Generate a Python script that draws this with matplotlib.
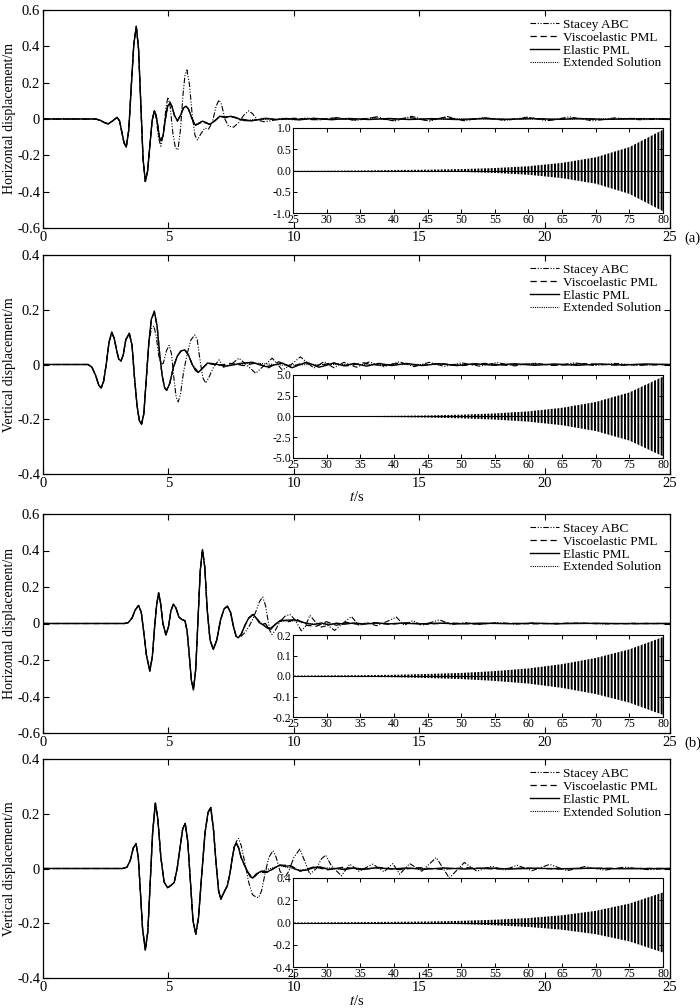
import matplotlib
matplotlib.use('Agg')
from matplotlib import pyplot as plt
from matplotlib import ticker

plt.rcParams['font.family'] = ['Liberation Serif', 'DejaVu Serif']
plt.rcParams['mathtext.fontset'] = 'stix'
plt.rcParams['axes.unicode_minus'] = False
plt.rcParams['hatch.color'] = 'black'
plt.rcParams['hatch.linewidth'] = 1.4
plt.rcParams['axes.linewidth'] = 0.9

# ********** Data **********
# each list holds (t [s], displacement [m]) pairs

# (a) horizontal
ah_base = [(0, 0), (2.1, 0), (2.3, -0.008), (2.45, -0.02), (2.6, -0.027), (2.78, -0.01), (2.95, 0.009),
           (3.05, -0.01), (3.14, -0.07), (3.23, -0.13), (3.32, -0.155), (3.42, -0.06), (3.52, 0.18),
           (3.62, 0.41), (3.72, 0.51), (3.81, 0.385), (3.9, 0.083), (3.99, -0.22), (4.08, -0.344),
           (4.17, -0.287), (4.26, -0.149), (4.35, -0.01), (4.44, 0.046)]
ah_elastic = [(4.51, 0.02), (4.58, -0.04), (4.64, -0.1), (4.7, -0.12), (4.79, -0.09), (4.88, 0.0), (4.97, 0.07),
              (5.06, 0.088), (5.14, 0.07), (5.24, 0.02), (5.36, -0.01), (5.48, 0.02), (5.6, 0.06), (5.7, 0.071),
              (5.8, 0.055), (5.92, 0.01), (6.0, -0.02), (6.08, -0.033), (6.2, -0.025), (6.35, -0.012),
              (6.5, -0.02), (6.65, -0.03), (6.85, -0.01), (7.05, 0.015), (7.25, 0.01), (7.5, 0.015),
              (7.75, 0.003), (8.0, -0.008), (8.3, -0.01), (8.6, -0.003), (8.9, 0.004), (9.3, -0.004),
              (9.7, 0.003), (10.2, -0.005), (10.8, 0.004), (11.5, -0.004), (12.2, 0.003), (13.0, -0.003),
              (13.8, 0.003), (14.6, -0.003), (15.5, 0.002), (16.5, -0.003), (17.5, 0.002), (18.5, -0.002),
              (19.5, 0.002), (20.5, -0.002), (21.5, 0.002), (22.5, -0.002), (23.5, 0.001), (25, 0)]
ah_stacey = [(4.52, 0.0), (4.6, -0.1), (4.7, -0.15), (4.8, -0.08), (4.9, 0.06), (4.98, 0.12), (5.07, 0.07),
             (5.18, -0.08), (5.28, -0.16), (5.38, -0.17), (5.48, -0.06), (5.58, 0.13), (5.66, 0.24),
             (5.74, 0.27), (5.84, 0.19), (5.95, 0.02), (6.06, -0.09), (6.16, -0.115), (6.3, -0.08),
             (6.45, -0.05), (6.6, -0.055), (6.75, -0.02), (6.9, 0.07), (7.02, 0.105), (7.12, 0.08),
             (7.25, 0.0), (7.4, -0.04), (7.6, -0.045), (7.8, -0.02), (8.0, 0.02), (8.2, 0.045), (8.35, 0.03),
             (8.55, -0.005), (8.8, -0.015), (9.1, -0.01), (9.5, 0.004), (10.0, -0.005), (10.5, 0.006),
             (11.0, -0.006), (11.7, 0.008), (12.5, -0.008), (13.3, 0.012), (14.0, -0.012), (14.7, 0.015),
             (15.4, -0.012), (16.1, 0.014), (16.8, -0.01), (17.6, 0.008), (18.4, -0.008), (19.3, 0.01),
             (20.1, -0.01), (21.0, 0.012), (21.9, -0.01), (22.8, 0.006), (23.8, -0.004), (25, 0)]
ah_visco = [(4.51, 0.02), (4.58, -0.04), (4.64, -0.1), (4.7, -0.125), (4.79, -0.09), (4.88, 0.0), (4.97, 0.075),
            (5.06, 0.095), (5.14, 0.07), (5.24, 0.02), (5.36, -0.012), (5.48, 0.02), (5.6, 0.06), (5.7, 0.07),
            (5.8, 0.055), (5.92, 0.01), (6.08, -0.035), (6.3, -0.02), (6.5, -0.022), (6.65, -0.03),
            (6.85, -0.01), (7.05, 0.013), (7.3, 0.008), (7.6, 0.012), (7.9, 0.0), (8.3, -0.01), (8.8, 0.003),
            (9.4, -0.004), (10.0, 0.004), (10.8, -0.004), (11.6, 0.005), (12.4, -0.005), (13.2, 0.008),
            (13.9, -0.008), (14.6, 0.009), (15.3, -0.008), (16.0, 0.008), (16.8, -0.006), (17.6, 0.005),
            (18.5, -0.005), (19.4, 0.006), (20.3, -0.005), (21.2, 0.005), (22.2, -0.004), (23.3, 0.003), (25, 0)]
ah_exact = [(4.51, 0.02), (4.58, -0.04), (4.64, -0.1), (4.7, -0.12), (4.79, -0.09), (4.88, 0.0), (4.97, 0.07),
            (5.06, 0.088), (5.14, 0.07), (5.24, 0.02), (5.36, -0.01), (5.48, 0.02), (5.6, 0.06), (5.7, 0.071),
            (5.8, 0.055), (5.92, 0.01), (6.08, -0.033), (6.35, -0.012), (6.65, -0.028), (6.85, -0.01),
            (7.05, 0.015), (7.5, 0.013), (8.0, -0.006), (8.5, -0.004), (9.5, 0.0), (25, 0)]

# (a) vertical
av_base = [(0, 0), (1.8, 0), (1.95, -0.01), (2.1, -0.04), (2.22, -0.075), (2.32, -0.086), (2.42, -0.06),
           (2.52, 0.0), (2.63, 0.08), (2.74, 0.118), (2.84, 0.095), (2.94, 0.05), (3.02, 0.02), (3.11, 0.013),
           (3.2, 0.035), (3.3, 0.09), (3.44, 0.114), (3.55, 0.07), (3.65, -0.05), (3.75, -0.15),
           (3.84, -0.205), (3.93, -0.218), (4.02, -0.18), (4.12, -0.05), (4.22, 0.08)]
av_elastic = [(4.32, 0.165), (4.44, 0.195), (4.55, 0.14), (4.65, 0.04), (4.75, -0.04), (4.85, -0.085),
              (4.93, -0.095), (5.05, -0.07), (5.2, -0.01), (5.35, 0.03), (5.5, 0.05), (5.66, 0.053),
              (5.8, 0.035), (5.95, 0.0), (6.08, -0.022), (6.19, -0.029), (6.35, -0.015), (6.56, 0.005),
              (6.8, 0.003), (7.05, -0.002), (7.3, -0.006), (7.55, -0.002), (7.8, 0.003), (8.05, 0.006),
              (8.35, 0.008), (8.6, 0.0), (8.9, -0.008), (9.2, -0.002), (9.55, 0.005), (9.93, -0.012),
              (10.2, -0.002), (10.5, 0.008), (10.75, 0.0), (11.0, -0.01), (11.3, -0.003), (11.6, 0.006),
              (12.0, -0.005), (12.4, 0.004), (12.9, -0.006), (13.4, 0.004), (13.9, -0.004), (14.5, 0.004),
              (15.1, -0.004), (15.8, 0.003), (16.5, -0.004), (17.2, 0.003), (18.0, -0.003), (18.8, 0.003),
              (19.6, -0.003), (20.4, 0.002), (21.3, -0.003), (22.2, 0.002), (23.1, -0.002), (24.0, 0.002), (25, 0)]
av_stacey = [(4.32, 0.13), (4.42, 0.141), (4.52, 0.1), (4.62, 0.03), (4.72, 0.0), (4.8, 0.005), (4.92, 0.05),
             (5.03, 0.07), (5.12, 0.04), (5.22, -0.05), (5.31, -0.12), (5.39, -0.137), (5.48, -0.11),
             (5.6, -0.03), (5.75, 0.04), (5.9, 0.09), (6.05, 0.108), (6.15, 0.09), (6.27, 0.01), (6.38, -0.05),
             (6.49, -0.068), (6.6, -0.05), (6.8, -0.01), (7.02, 0.017), (7.2, -0.01), (7.5, 0.0), (7.81, 0.023),
             (8.1, 0.0), (8.48, -0.032), (8.8, -0.005), (9.14, 0.023), (9.54, -0.02), (9.9, 0.0), (10.26, 0.028),
             (10.5, 0.01), (10.8, -0.013), (11.2, 0.01), (11.6, -0.012), (12.0, 0.008), (12.5, -0.01),
             (13.0, 0.009), (13.6, -0.008), (14.2, 0.01), (14.8, -0.008), (15.4, 0.008), (16.0, -0.007),
             (16.7, 0.006), (17.4, -0.006), (18.1, 0.007), (18.8, -0.005), (19.6, 0.005), (20.4, -0.004),
             (21.2, 0.006), (22.0, -0.004), (22.8, 0.004), (23.8, -0.003), (25, 0)]
av_visco = [(4.32, 0.165), (4.44, 0.19), (4.55, 0.14), (4.65, 0.04), (4.75, -0.04), (4.85, -0.085),
            (4.93, -0.093), (5.05, -0.07), (5.2, -0.01), (5.35, 0.03), (5.5, 0.048), (5.66, 0.052), (5.8, 0.035),
            (5.95, 0.0), (6.19, -0.028), (6.56, 0.004), (7.0, -0.003), (7.5, 0.004), (8.0, -0.004), (8.5, 0.006),
            (9.0, -0.012), (9.4, 0.01), (9.9, -0.01), (10.4, 0.008), (10.9, -0.006), (11.5, 0.006),
            (12.1, -0.005), (12.8, 0.006), (13.5, -0.005), (14.2, 0.005), (15.0, -0.004), (15.8, 0.004),
            (16.7, -0.004), (17.6, 0.004), (18.5, -0.003), (19.5, 0.003), (20.5, -0.003), (21.6, 0.003),
            (22.8, -0.002), (25, 0)]
av_exact = [(4.32, 0.165), (4.44, 0.195), (4.55, 0.14), (4.65, 0.04), (4.75, -0.04), (4.85, -0.085),
            (4.93, -0.095), (5.05, -0.07), (5.2, -0.01), (5.35, 0.03), (5.5, 0.05), (5.66, 0.053), (5.8, 0.035),
            (5.95, 0.0), (6.19, -0.029), (6.56, 0.005), (7.3, -0.004), (8.35, 0.006), (9.5, -0.002),
            (11.0, 0.0), (25, 0)]

# (b) horizontal
bh_base = [(0, 0), (3.25, 0), (3.4, 0.005), (3.55, 0.03), (3.68, 0.075), (3.81, 0.099), (3.92, 0.06),
           (4.02, -0.05), (4.12, -0.17), (4.26, -0.261), (4.36, -0.18), (4.45, -0.02), (4.53, 0.1),
           (4.61, 0.168), (4.69, 0.11), (4.78, 0.0), (4.9, -0.062), (5.0, -0.02), (5.1, 0.07), (5.2, 0.106),
           (5.3, 0.085), (5.42, 0.035), (5.54, 0.022), (5.66, 0.015), (5.745, -0.04), (5.83, -0.17),
           (5.915, -0.31), (6.0, -0.363), (6.09, -0.25), (6.18, 0.02), (6.27, 0.29), (6.36, 0.405),
           (6.45, 0.31), (6.55, 0.07), (6.66, -0.09), (6.79, -0.142), (6.93, -0.09), (7.08, 0.02),
           (7.22, 0.08), (7.35, 0.095), (7.48, 0.06), (7.6, -0.02), (7.7, -0.07), (7.78, -0.078)]
bh_elastic = [(7.9, -0.06), (8.05, -0.01), (8.2, 0.03), (8.37, 0.05), (8.5, 0.03), (8.62, 0.005), (8.74, -0.005),
              (8.87, 0.0), (9.0, -0.03), (9.1, -0.03), (9.25, -0.005), (9.45, 0.015), (9.7, 0.018), (10.0, 0.02),
              (10.2, 0.015), (10.5, 0.0), (10.8, -0.005), (11.1, 0.003), (11.4, -0.008), (11.7, 0.002),
              (12.0, -0.004), (12.4, 0.003), (12.8, -0.003), (13.3, 0.003), (13.8, -0.002), (14.3, 0.002),
              (15.0, -0.002), (15.8, 0.002), (16.6, -0.002), (17.5, 0.002), (18.5, -0.001), (19.5, 0.001),
              (20.5, -0.001), (22.0, 0.001), (23.5, -0.001), (25, 0)]
bh_stacey = [(7.9, -0.07), (8.05, -0.05), (8.2, -0.02), (8.35, 0.02), (8.5, 0.07), (8.63, 0.12), (8.76, 0.145),
             (8.87, 0.1), (8.97, 0.02), (9.05, -0.04), (9.13, -0.06), (9.25, -0.04), (9.45, 0.01), (9.65, 0.04),
             (9.85, 0.05), (10.05, 0.02), (10.3, -0.04), (10.45, -0.02), (10.64, 0.045), (10.85, 0.01),
             (11.1, -0.02), (11.35, -0.01), (11.63, -0.038), (11.95, 0.0), (12.3, 0.038), (12.6, -0.011),
             (12.9, 0.005), (13.3, -0.012), (13.7, 0.01), (14.09, 0.035), (14.4, -0.01), (14.75, 0.016),
             (15.1, -0.01), (15.8, 0.02), (16.3, -0.006), (16.8, 0.005), (17.4, -0.005), (18.1, 0.005),
             (18.8, -0.004), (19.6, 0.004), (20.4, -0.003), (21.3, 0.003), (22.3, -0.003), (23.5, 0.002), (25, 0)]
bh_visco = [(7.9, -0.06), (8.05, -0.012), (8.2, 0.028), (8.37, 0.048), (8.5, 0.03), (8.7, 0.0), (9.0, -0.032),
            (9.25, -0.008), (9.5, 0.02), (9.8, 0.01), (10.1, 0.025), (10.5, -0.01), (10.9, -0.015), (11.3, 0.01),
            (11.7, -0.01), (12.1, 0.006), (12.6, -0.006), (13.2, 0.005), (13.8, -0.005), (14.5, 0.004),
            (15.3, -0.004), (16.2, 0.003), (17.2, -0.003), (18.3, 0.002), (19.5, -0.002), (21.0, 0.002),
            (23.0, -0.001), (25, 0)]
bh_exact = [(7.9, -0.06), (8.05, -0.01), (8.2, 0.03), (8.37, 0.05), (8.5, 0.03), (8.74, -0.004), (9.05, -0.028),
            (9.45, 0.012), (10.0, 0.015), (10.8, -0.004), (12.0, 0.0), (25, 0)]

# (b) vertical
bv_base = [(0, 0), (3.18, 0), (3.35, 0.005), (3.48, 0.03), (3.6, 0.075), (3.71, 0.091), (3.8, 0.04),
           (3.88, -0.08), (3.97, -0.22), (4.08, -0.298), (4.18, -0.23), (4.27, -0.06), (4.37, 0.13),
           (4.48, 0.239), (4.58, 0.18), (4.7, 0.04), (4.83, -0.05), (4.97, -0.07), (5.1, -0.062),
           (5.23, -0.051), (5.35, 0.0), (5.47, 0.08), (5.57, 0.145), (5.67, 0.165), (5.77, 0.1),
           (5.88, -0.05), (5.98, -0.19), (6.09, -0.24), (6.2, -0.18), (6.33, -0.02), (6.46, 0.13),
           (6.58, 0.205), (6.69, 0.223), (6.8, 0.14), (6.9, 0.02), (7.0, -0.08), (7.09, -0.112), (7.2, -0.09),
           (7.35, -0.063), (7.45, -0.02), (7.55, 0.04), (7.63, 0.08)]
bv_elastic = [(7.71, 0.093), (7.8, 0.075), (7.9, 0.04), (8.0, 0.02), (8.15, -0.01), (8.26, -0.03), (8.36, -0.035),
              (8.5, -0.02), (8.7, -0.01), (8.95, -0.012), (9.2, 0.0), (9.44, 0.013), (9.65, 0.008), (9.85, 0.01),
              (10.05, -0.002), (10.25, -0.008), (10.5, -0.006), (10.8, 0.004), (11.05, 0.006), (11.35, -0.003),
              (11.7, 0.0), (12.0, -0.004), (12.4, 0.002), (12.8, -0.003), (13.3, 0.003), (13.9, -0.002),
              (14.5, 0.002), (15.2, -0.003), (16.0, 0.002), (16.8, -0.002), (17.7, 0.002), (18.6, -0.002),
              (19.6, 0.001), (20.6, -0.001), (21.8, 0.001), (23.0, -0.001), (25, 0)]
bv_stacey = [(7.72, 0.1), (7.8, 0.11), (7.9, 0.085), (8.05, 0.02), (8.2, -0.05), (8.35, -0.095), (8.5, -0.105),
             (8.6, -0.106), (8.72, -0.08), (8.85, -0.02), (9.0, 0.04), (9.17, 0.065), (9.3, 0.04), (9.45, -0.01),
             (9.64, -0.033), (9.8, -0.01), (10.0, 0.04), (10.24, 0.071), (10.42, 0.03), (10.64, -0.021),
             (10.9, 0.0), (11.1, 0.035), (11.27, 0.049), (11.5, 0.01), (11.9, -0.027), (12.23, 0.016),
             (12.6, -0.01), (13.15, 0.016), (13.6, -0.012), (13.95, 0.018), (14.22, -0.021), (14.62, 0.018),
             (15.1, -0.01), (15.68, 0.04), (16.2, -0.035), (16.8, 0.022), (17.3, -0.01), (17.9, 0.008),
             (18.4, -0.006), (18.9, 0.012), (19.5, -0.008), (20.2, 0.015), (20.9, -0.008), (21.6, 0.007),
             (22.4, -0.006), (23.2, 0.005), (24.1, -0.004), (25, 0)]
bv_visco = [(7.71, 0.092), (7.8, 0.076), (7.9, 0.04), (8.0, 0.018), (8.15, -0.012), (8.36, -0.036), (8.6, -0.015),
            (8.95, -0.014), (9.2, 0.0), (9.44, 0.012), (9.85, 0.012), (10.25, -0.01), (10.8, 0.006),
            (11.35, -0.005), (12.0, 0.005), (12.7, -0.004), (13.4, 0.004), (14.2, -0.004), (15.0, 0.003),
            (15.9, -0.003), (16.9, 0.003), (18.0, -0.002), (19.2, 0.002), (20.5, -0.002), (22.0, 0.001), (25, 0)]
bv_exact = [(7.71, 0.093), (7.8, 0.075), (7.9, 0.04), (8.0, 0.02), (8.15, -0.01), (8.36, -0.035), (8.7, -0.01),
            (9.44, 0.01), (10.25, -0.006), (11.0, 0.003), (12.0, 0.0), (25, 0)]

# long-time insets: envelope of the growing oscillation at 5 s steps
inset_t = [25, 30, 35, 40, 45, 50, 55, 60, 65, 70, 75, 80]
inset_zero = [0] * 12
ah_envelope = [0.002, 0.0035, 0.006, 0.011, 0.019, 0.033, 0.058, 0.10, 0.18, 0.31, 0.55, 0.96]
av_envelope = [0.02, 0.03, 0.05, 0.08, 0.13, 0.22, 0.37, 0.62, 1.05, 1.75, 2.9, 4.8]
bh_envelope = [0.002, 0.003, 0.004, 0.006, 0.01, 0.015, 0.024, 0.037, 0.058, 0.088, 0.13, 0.19]
bv_envelope = [0.002, 0.003, 0.004, 0.006, 0.009, 0.015, 0.025, 0.04, 0.065, 0.105, 0.17, 0.27]

labels = ['Stacey ABC', 'Viscoelastic PML', 'Elastic PML', 'Extended Solution']
ylabels = ['Horizontal displacement/m', 'Vertical displacement/m',
           'Horizontal displacement/m', 'Vertical displacement/m']
main_ylim = [0.6, 0.4, 0.6, 0.4]
inset_ylim = [1.0, 5.0, 0.2, 0.4]

styles = {
	'Stacey ABC': dict(linestyle=(0, (5, 1.5, 1, 1.5, 1, 1.5)), linewidth=0.8, zorder=2),
	'Viscoelastic PML': dict(linestyle=(0, (5, 3)), linewidth=0.9, zorder=3),
	'Elastic PML': dict(linestyle='-', linewidth=1.0, zorder=4),
	'Extended Solution': dict(linestyle=(0, (1, 1)), linewidth=0.8, zorder=5),
}

panels = [
	(ah_base, ah_stacey, ah_visco, ah_elastic, ah_exact, ah_envelope),
	(av_base, av_stacey, av_visco, av_elastic, av_exact, av_envelope),
	(bh_base, bh_stacey, bh_visco, bh_elastic, bh_exact, bh_envelope),
	(bv_base, bv_stacey, bv_visco, bv_elastic, bv_exact, bv_envelope),
]

# ********** Layout (pixels of a 700x1008 figure) **********
W, H = 700.0, 1008.0
main_boxes = [(43, 10, 670, 228), (43, 255, 670, 474), (43, 514, 670, 733), (43, 759, 670, 978)]
inset_boxes = [(293, 128, 663, 213), (293, 375, 663, 458), (293, 635, 663, 717), (293, 878, 663, 967)]


def rect(box):
	x0, y0, x1, y1 = box
	return [x0 / W, 1 - y1 / H, (x1 - x0) / W, (y1 - y0) / H]


def splitPairs(pairs):
	return [p[0] for p in pairs], [p[1] for p in pairs]


def mainFormatter(v, pos):
	if abs(v) < 1e-9:
		return '0'
	return '%.1f' % v


fig = plt.figure(figsize=(7.0, 10.08), dpi=100)

for i, (base, stacey, visco, elastic, exact, envelope) in enumerate(panels):
	ax = fig.add_axes(rect(main_boxes[i]))
	for name, tail in zip(labels, [stacey, visco, elastic, exact]):
		t, u = splitPairs(base + tail)
		ax.plot(t, u, color='black', label=name, **styles[name])
	ax.set_xlim(0, 25)
	ax.set_ylim(-main_ylim[i], main_ylim[i])
	ax.xaxis.set_major_locator(ticker.MultipleLocator(5))
	ax.yaxis.set_major_locator(ticker.MultipleLocator(0.2))
	ax.yaxis.set_major_formatter(ticker.FuncFormatter(mainFormatter))
	ax.tick_params(direction='in', top=True, right=True, length=4, width=0.8, labelsize=10.5, pad=2)
	ax.set_ylabel(ylabels[i], fontsize=10, labelpad=1)
	if i in (1, 3):
		ax.set_xlabel('$t$/s', fontsize=10.5, labelpad=0)
	ax.legend(loc='upper right', frameon=False, fontsize=9.5, handlelength=2.2, handletextpad=0.3,
	          labelspacing=0.05, borderaxespad=0.25, bbox_to_anchor=(1.0, 1.0))

	ins = fig.add_axes(rect(inset_boxes[i]))
	lim = inset_ylim[i]
	neg = [-e for e in envelope]
	ins.fill_between(inset_t, neg, envelope, facecolor='none', edgecolor='black', linewidth=0, hatch='|||||')
	ins.plot(inset_t, inset_zero, color='black', linewidth=0.8)
	ins.set_xlim(25, 80)
	ins.set_ylim(-lim, lim)
	ins.xaxis.set_major_locator(ticker.MultipleLocator(5))
	ins.yaxis.set_major_locator(ticker.MultipleLocator(lim / 2))
	ins.yaxis.set_major_formatter(ticker.FormatStrFormatter('%.1f'))
	ins.tick_params(direction='in', top=True, right=True, length=3, width=0.7, labelsize=8.5, pad=1)
	for s in ins.spines.values():
		s.set_linewidth(0.8)

fig.text(684 / W, 1 - 238 / H, '(a)', fontsize=10.5, ha='left', va='center')
fig.text(684 / W, 1 - 743 / H, '(b)', fontsize=10.5, ha='left', va='center')

fig.savefig('out.png', dpi=100)
